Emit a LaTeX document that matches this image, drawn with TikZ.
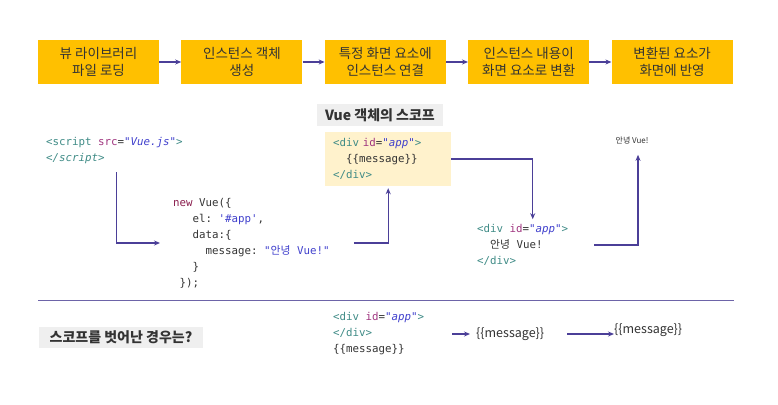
\documentclass[tikz,border=0pt]{standalone}
\usepackage{fontspec}
\setmainfont{Noto Sans CJK KR}
\setmonofont{DejaVu Sans Mono}
\newfontfamily\kr{Noto Sans CJK KR}
\usetikzlibrary{arrows.meta, positioning}
\definecolor{ink}{HTML}{333333}
\definecolor{gold}{HTML}{FFC000}
\definecolor{flowc}{HTML}{4B3F98}
\definecolor{scopefill}{HTML}{FFF2CC}
\definecolor{capfill}{HTML}{EFEFEF}
\definecolor{rulec}{HTML}{6D64A8}
\definecolor{tagc}{HTML}{3F8B86}
\definecolor{attrc}{HTML}{A0357F}
\definecolor{strc}{HTML}{3F3FCC}
\definecolor{kwc}{HTML}{8A1E4E}
% code colouring
\newcommand{\tg}[1]{\textcolor{tagc}{#1}}
\newcommand{\at}[1]{\textcolor{attrc}{#1}}
\newcommand{\sv}[1]{\textcolor{strc}{\itshape #1}}
\newcommand{\str}[1]{\textcolor{strc}{#1}}
\newcommand{\kw}[1]{\textcolor{kwc}{#1}}
\tikzset{
  font=\fontsize{13.5}{17}\selectfont,
  >={Stealth[length=6pt, width=5pt]},
  %
  stepbox/.style={fill=gold, text=ink, align=center, inner sep=2pt,
                  minimum width=121pt, minimum height=44pt},
  flow/.style={draw=flowc, line width=1.1pt, ->},
  %
  code/.style={font=\ttfamily\fontsize{10.8}{16}\selectfont, text=ink,
               align=left, inner sep=0pt, anchor=west},
  caption/.style={fill=capfill, text=ink, inner sep=0pt,
                  font=\bfseries\fontsize{14}{16}\selectfont},
  plain/.style={text=ink, inner sep=0pt, anchor=west},
}

\begin{document}
\begin{tikzpicture}[x=1pt, y=-1pt]
  \useasboundingbox (0,0) rectangle (778,404);

  % --- the steps ----------------------------------------------------------
  \node[stepbox] (s1) at (98.5,62) {뷰 라이브러리\\파일 로딩};
  \node[stepbox, right=22pt of s1] (s2) {인스턴스 객체\\생성};
  \node[stepbox, right=22pt of s2] (s3) {특정 화면 요소에\\인스턴스 연결};
  \node[stepbox, right=22pt of s3] (s4) {인스턴스 내용이\\화면 요소로 변환};
  \node[stepbox, right=22pt of s4] (s5) {변환된 요소가\\화면에 반영};

  \foreach \a/\b in {s1/s2, s2/s3, s3/s4, s4/s5} { \draw[flow] (\a) -- (\b); }

  % --- inside the scope ---------------------------------------------------
  \node[code] (script) at (46,151)
    {\tg{<script} \at{src}=\sv{"Vue.js"}\tg{>}\\\tg{\itshape </script>}};

  \node[code] (vue) at (173,243)
    {\kw{new} Vue(\{\\
     \phantom{xxx}el: \str{'\#app'},\\
     \phantom{xxx}data:\{\\
     \phantom{xxxxx}message: \str{"{\kr 안녕} Vue!"}\\
     \phantom{xxx}\}\\
     \phantom{x}\});};

  \node[caption, minimum width=126pt, minimum height=22pt] (scopecap) at (380,115)
    {Vue 객체의 스코프};

  \node[code, fill=scopefill, text width=110pt, inner xsep=8pt,
        minimum height=54pt] (scopebox) at (325,159)
    {\tg{<div} \at{id}=\sv{"app"}\tg{>}\\
     \phantom{xx}\{\{message\}\}\\
     \tg{</div>}};

  \node[code] (result) at (477,245)
    {\tg{<div} \at{id}=\sv{"app"}\tg{>}\\
     \phantom{xx}{\kr 안녕} Vue!\\
     \tg{</div>}};

  \node[text=ink, inner sep=0pt, font=\fontsize{8}{9}\selectfont] (final) at (632,140)
    {안녕 Vue!};

  \draw[flow, shorten <=8pt] ([xshift=2pt]script.south) |- ([xshift=-13pt]vue.west);
  \draw[flow, shorten >=2pt] ([xshift=24pt]vue.east) -| (scopebox.south);
  \draw[flow, shorten >=5pt] (scopebox.east) -| ([xshift=10pt]result.north);
  \draw[flow, shorten >=11pt] ([xshift=26pt]result.east) -| ([xshift=6pt]final.south);

  % --- outside the scope --------------------------------------------------
  \draw[draw=rulec, line width=1pt] (38,300) -- (734,300);

  \node[caption, minimum width=164pt, minimum height=21pt] (outcap) at (121,337.5)
    {스코프를 벗어난 경우는?};

  \node[code] (outcode) at (333,334)
    {\tg{<div} \at{id}=\sv{"app"}\tg{>}\\
     \tg{</div>}\\
     \{\{message\}\}};

  \node[plain, font=\fontsize{12.5}{14}\selectfont] (m1) at (476,334) {\{\{message\}\}};
  \node[plain, font=\fontsize{12.5}{14}\selectfont] (m2) at (614,330) {\{\{message\}\}};

  \draw[flow] ([xshift=28pt]outcode.east) -- ([xshift=-6pt]m1.west);
  \draw[flow] ([xshift=23pt]m1.east) -- (m1.east -| m2.west);

\end{tikzpicture}
\end{document}
